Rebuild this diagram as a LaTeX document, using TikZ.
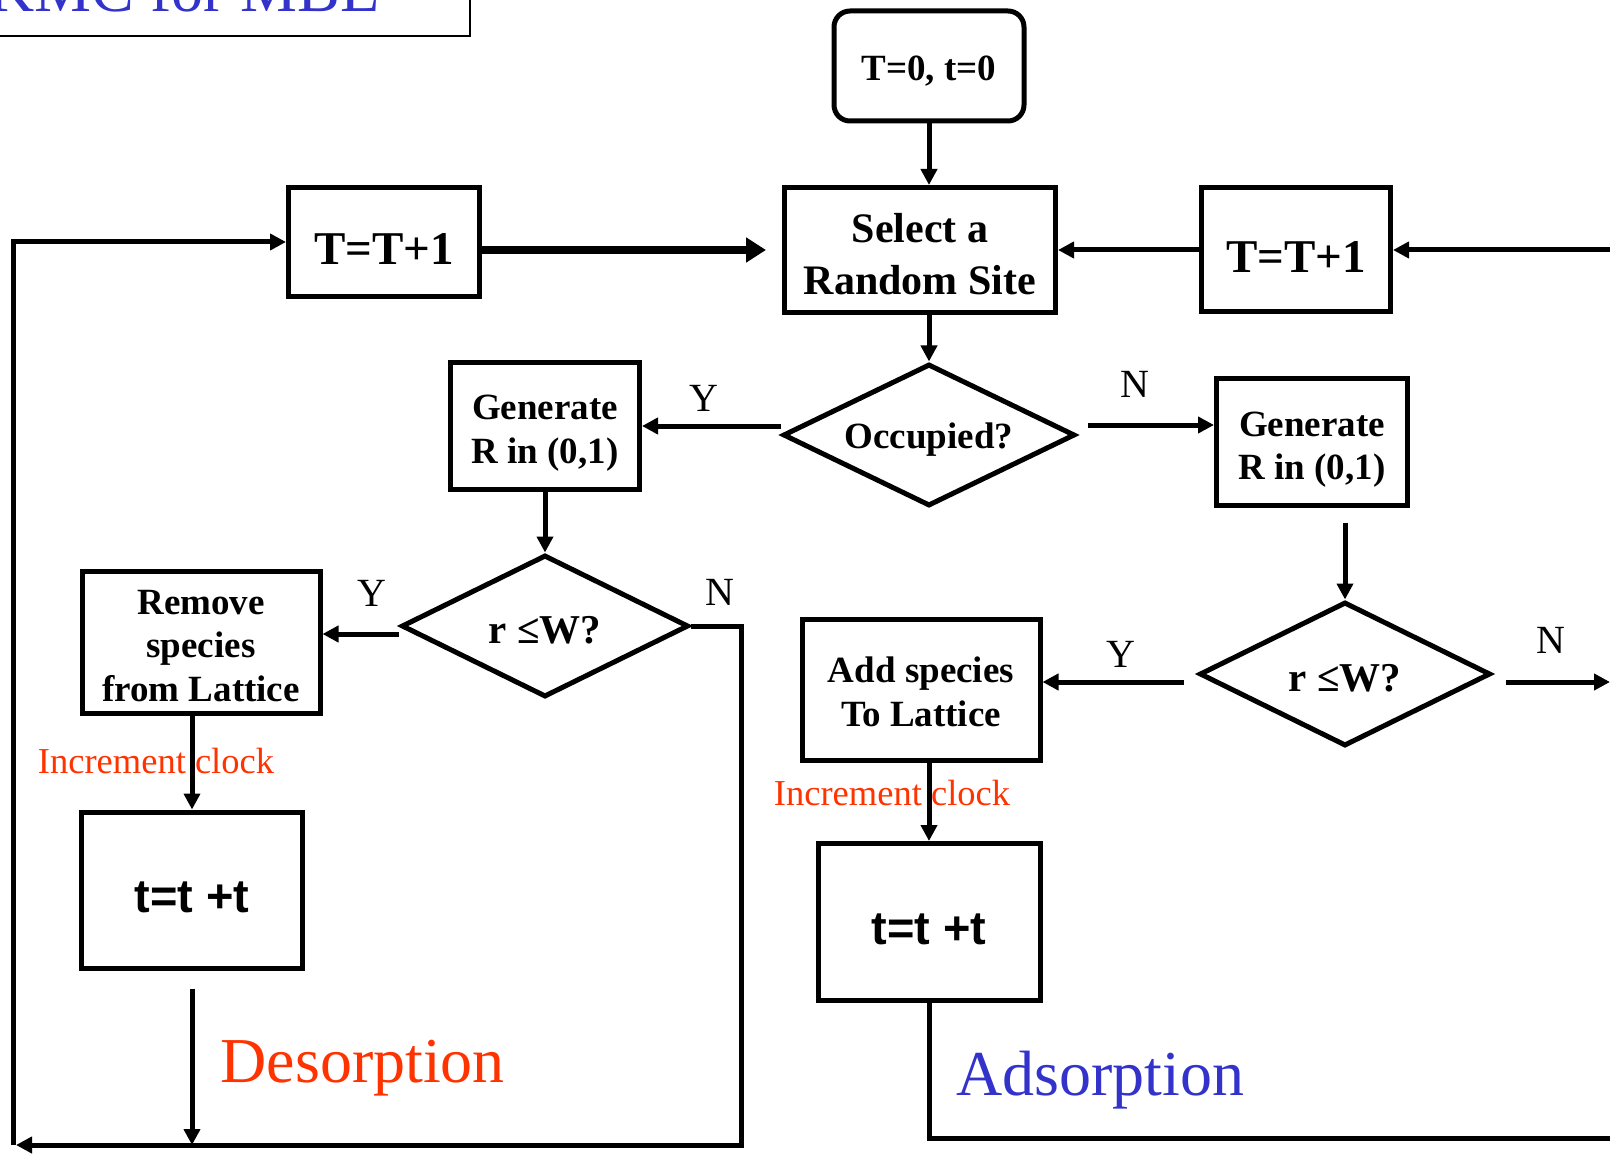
\documentclass[tikz,border=0pt]{standalone}
\usepackage{fontspec}
\setmainfont{Liberation Serif}
\setsansfont{Liberation Sans}
\usetikzlibrary{shapes.geometric,arrows.meta}
\definecolor{kmcred}{RGB}{255,51,0}
\definecolor{kmcblue}{RGB}{51,51,204}

\begin{document}
\begin{tikzpicture}[
	x=1pt,
	y=-1pt,
	line width=5pt,
	arr/.style={-{Triangle[length=16pt,width=16pt]}},
	bigarr/.style={line width=7.5pt, -{Triangle[length=20pt,width=24pt]}}
]
\tikzset{
    textlift/.initial=0.95em,
    box/.style = {rectangle, draw=black, line width=5pt, align=center, inner sep=0pt,
                  font=\bfseries\fontsize{37}{43.5}\selectfont,
                  execute at begin node={\rule{0pt}{\pgfkeysvalueof{/tikz/textlift}}}},
    choice/.style = {diamond, draw=black, line width=5pt, aspect=2, inner sep=0pt,
                  font=\bfseries\fontsize{41}{48}\selectfont,
                  execute at begin node={\rule{0pt}{\pgfkeysvalueof{/tikz/textlift}}}},
    yn/.style = {inner sep=0pt, font=\fontsize{40}{48}\selectfont},
    clocklabel/.style = {anchor=base, inner sep=0pt, text=kmcred, font=\fontsize{36.5}{43}\selectfont},
    biglabel/.style = {anchor=base west, inner sep=0pt, font=\fontsize{64}{77}\selectfont},
}

    \useasboundingbox (0,0) rectangle (1610,1158);

    \node (title) [draw, line width=2pt, text=kmcblue, anchor=base, inner xsep=90pt, inner ysep=24pt,
        text depth=0pt, font=\fontsize{64}{77}\selectfont] at (184,12) {KMC for MBE};

    \node (start) [box, rounded corners=16pt, minimum width=190pt, minimum height=110pt] at (929,66) {T=0, t=0};
    \node (sel) [box, minimum width=271pt, minimum height=125pt, textlift=2.15em,
        font=\bfseries\fontsize{42}{52}\selectfont] at (920,250) {Select a\\Random Site};
    \node (LT) [box, minimum width=191pt, minimum height=109pt,
        font=\bfseries\fontsize{47}{56}\selectfont] at (384,242) {T=T+1};
    \node (RT) [box, minimum width=189pt, minimum height=124pt,
        font=\bfseries\fontsize{47}{56}\selectfont] at (1296,250) {T=T+1};
    \node (occ) [choice, minimum width=292pt, minimum height=142pt,
        font=\bfseries\fontsize{37}{44}\selectfont] at (929,435) {Occupied?};
    \node (LGen) [box, minimum width=189pt, minimum height=126pt, textlift=2.22em] at (545,426) {Generate\\R in (0,1)};
    \node (RGen) [box, minimum width=191pt, minimum height=126pt, textlift=2.26em] at (1312,442) {Generate\\R in (0,1)};
    \node (Ldia) [choice, minimum width=287pt, minimum height=142pt, textlift=0.85em] at (545,626) {r ≤W?};
    \node (Rdia) [choice, minimum width=291pt, minimum height=144pt, textlift=0.88em] at (1345,674) {r ≤W?};
    \node (Rem) [box, minimum width=238pt, minimum height=142pt, textlift=3.2em] at (201,642) {Remove\\species\\from Lattice};
    \node (Add) [box, minimum width=238pt, minimum height=141pt, textlift=1.97em] at (921,690) {Add species\\To Lattice};
    \node (Ltick) [box, minimum width=221pt, minimum height=156pt,
        font=\sffamily\bfseries\fontsize{47}{56}\selectfont] at (192,890) {t=t +t};
    \node (Rtick) [box, minimum width=222pt, minimum height=157pt,
        font=\sffamily\bfseries\fontsize{47}{56}\selectfont] at (929,922) {t=t +t};

    \coordinate (rin) at (1612,250);
    \coordinate (loopL) at (13,1145);
    \coordinate (occN) at (1088,425);
    \coordinate (rout) at (1610,682);
    \coordinate (rend) at (1615,1138);

    \draw[arr] (start.south) -- (start.south |- sel.north);
    \draw[bigarr, shorten >=16pt] (LT.east |- sel.west) -- (sel.west);
    \draw[arr] (RT.west) -- (sel.east);
    \draw[arr] (rin) -- (RT.east);
    \draw[arr] (loopL) |- (LT.west);
    \draw[arr] (sel.south -| occ.north) -- (occ.north);
    \draw[arr] (occ.west |- LGen.east) -- (LGen.east);
    \draw[arr] (occN) -- (occN -| RGen.west);
    \draw[arr] (LGen.south) -- (Ldia.north);
    \draw[arr, shorten <=15pt] (RGen.south -| Rdia.north) -- (Rdia.north);
    \draw[arr] ([yshift=-8pt]Ldia.west) -- ([yshift=-8pt]Ldia.west -| Rem.east);
    \draw[arr] (Ldia.east) -- ++(50,0) |- ([xshift=3pt]loopL);
    \draw[arr] (Rem.south -| Ltick.north) -- (Ltick.north);
    \draw[arr, shorten <=18pt] (Ltick.south) -- (Ltick.south |- loopL);
    \draw[arr, shorten <=13pt] ([yshift=-8pt]Rdia.west) -- ([yshift=-8pt]Rdia.west -| Add.east);
    \draw[arr, shorten <=13pt] ([yshift=-8pt]Rdia.east) -- (rout);
    \draw[arr] (Add.south -| Rtick.north) -- (Rtick.north);
    \draw (Rtick.south) |- (rend);

    \node (yOcc) [yn] at (704,398) {Y};
    \node (nOcc) [yn] at (1135,384) {N};
    \node (yL) [yn] at (372,593) {Y};
    \node (nL) [yn] at (720,592) {N};
    \node (yR) [yn] at (1121,654) {Y};
    \node (nR) [yn] at (1551,640) {N};
    \node (clkL) [clocklabel] at (156,773) {Increment clock};
    \node (clkR) [clocklabel] at (892,805) {Increment clock};
    \node (des) [biglabel, text=kmcred] at (218,1082) {Desorption};
    \node (ads) [biglabel, text=kmcblue] at (954,1095) {Adsorption};
\end{tikzpicture}
\end{document}
